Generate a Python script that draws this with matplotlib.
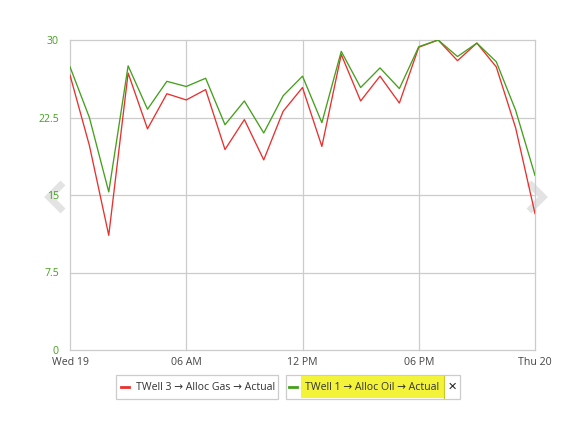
import matplotlib
matplotlib.use("Agg")
import matplotlib.pyplot as plt
from matplotlib.patches import Rectangle
from matplotlib.lines import Line2D

W, H = 583, 421
hours = list(range(25))
gas_actual = [26.6, 19.8, 11.1, 26.8, 21.4, 24.8, 24.2, 25.2, 19.4, 22.3, 18.4, 23.1,
              25.4, 19.7, 28.6, 24.1, 26.5, 23.9, 29.3, 30.0, 28.0, 29.7, 27.4, 21.5, 13.2]
oil_actual = [27.4, 22.5, 15.3, 27.5, 23.3, 26.0, 25.5, 26.3, 21.8, 24.1, 21.0, 24.6,
              26.5, 22.0, 28.9, 25.4, 27.3, 25.3, 29.35, 30.0, 28.4, 29.7, 27.9, 23.2, 16.9]
y_ticks = [0, 7.5, 15, 22.5, 30]
y_tick_labels = ["0", "7.5", "15", "22.5", "30"]
x_ticks = [0, 6, 12, 18, 24]
x_tick_labels = ["Wed 19", "06 AM", "12 PM", "06 PM", "Thu 20"]
legend_labels = ["TWell 3 \u2192 Alloc Gas \u2192 Actual", "TWell 1 \u2192 Alloc Oil \u2192 Actual"]

RED = "#e8312f"
GREEN = "#45a01d"
GRID = "#cccccc"
FS = 7.6
plt.rcParams['font.family'] = ['Open Sans', 'DejaVu Sans']

fig = plt.figure(figsize=(W / 100, H / 100), dpi=100)

def fx(px):
    return px / W

def fy(py):
    return 1 - py / H

# navigation chevrons (behind the plot)
for pts in ([(63, 183), (49, 197), (63, 211)], [(529, 183), (543, 197), (529, 211)]):
    xs = [fx(p[0]) for p in pts]
    ys = [fy(p[1]) for p in pts]
    fig.add_artist(Line2D(xs, ys, color="#e3e3e3", lw=5, solid_capstyle='butt',
                          solid_joinstyle='miter', zorder=0.5))

left, right, top, bottom = 70, 535, 40, 350
ax = fig.add_axes([fx(left), fy(bottom), (right - left) / W, (bottom - top) / H])
ax.set_facecolor('none')
ax.set_zorder(2)
ax.plot(hours, gas_actual, color=RED, lw=0.95, zorder=3)
ax.plot(hours, oil_actual, color=GREEN, lw=0.95, zorder=4)
ax.set_xlim(0, 24)
ax.set_ylim(0, 30)
ax.set_xticks(x_ticks)
ax.set_xticklabels(x_tick_labels)
ax.set_yticks(y_ticks)
ax.set_yticklabels(y_tick_labels)
ax.grid(True, color=GRID, lw=0.9)
for gl in ax.get_xgridlines() + ax.get_ygridlines():
    gl.set_clip_on(False)
for s in ax.spines.values():
    s.set_visible(False)
ax.tick_params(axis='both', length=0, labelsize=FS)
ax.tick_params(axis='y', colors=GREEN, pad=8)
ax.tick_params(axis='x', colors="#444444", pad=5)
for lab in ax.get_yticklabels():
    lab.set_color(GREEN)

# legend boxes
def rect(x0, y0, x1, y1, **kw):
    fig.add_artist(Rectangle((fx(x0), fy(y1)), fx(x1) - fx(x0), (y1 - y0) / H,
                             transform=fig.transFigure, zorder=3, **kw))

rect(116, 375, 278, 399, fill=False, edgecolor="#cccccc", lw=0.9)
rect(286, 375, 460, 399, fill=False, edgecolor="#cccccc", lw=0.9)
rect(301, 376, 444, 398, facecolor="#f3f33a", edgecolor="none")
fig.add_artist(Line2D([fx(444), fx(444)], [fy(376), fy(398)], color="#c8c830", lw=0.8, zorder=3))
fig.add_artist(Line2D([fx(121), fx(129)], [fy(387), fy(387)], color=RED, lw=2, zorder=3))
fig.add_artist(Line2D([fx(289), fx(297)], [fy(387), fy(387)], color=GREEN, lw=2, zorder=3))
fig.text(fx(136), fy(387), legend_labels[0], fontsize=FS, color="#333333", va='center', ha='left', zorder=4)
fig.text(fx(305), fy(387), legend_labels[1], fontsize=FS, color="#333333", va='center', ha='left', zorder=4)
fig.text(fx(452), fy(387), "\u2715", fontsize=8, color="#222222", va='center', ha='center',
         family=['DejaVu Sans'], zorder=4)

fig.savefig("out.png", dpi=100)
